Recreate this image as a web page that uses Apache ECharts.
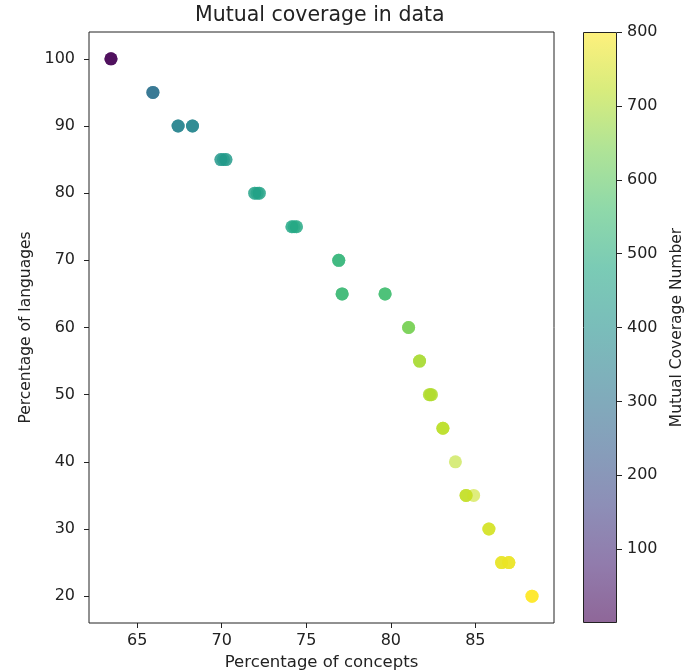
<!DOCTYPE html>
<html>
<head>
<meta charset="utf-8">
<script src="https://cdn.jsdelivr.net/npm/echarts@6/dist/echarts.min.js"></script>
<style>
  html, body { margin: 0; padding: 0; background: #fff; }
  #chart { width: 690px; height: 672px; }
</style>
</head>
<body>
<div id="chart"></div>
<script>
// ---- data ----
const conceptPct = [
  63.45, 63.45, 63.45,
  65.93, 65.93, 65.93,
  67.42, 67.42, 67.42, 68.27, 68.27, 68.27,
  69.95, 69.95, 70.10, 70.25, 70.25,
  71.95, 71.95, 72.10, 72.22, 72.22,
  74.15, 74.15, 74.28, 74.42, 74.42,
  76.92, 76.92, 76.92,
  77.12, 77.12, 77.12, 79.66, 79.66, 79.66,
  81.05, 81.05, 81.05,
  81.70, 81.70, 81.70,
  82.28, 82.28, 82.34, 82.40, 82.40,
  83.08, 83.08, 83.08,
  83.82,
  84.45, 84.45, 84.45, 84.90,
  85.80, 85.80, 85.80,
  86.55, 86.55, 86.55, 86.98, 86.98, 86.98,
  88.35, 88.35, 88.35
];
const languagePct = [
  100, 100, 100,
  95, 95, 95,
  90, 90, 90, 90, 90, 90,
  85, 85, 85, 85, 85,
  80, 80, 80, 80, 80,
  75, 75, 75, 75, 75,
  70, 70, 70,
  65, 65, 65, 65, 65, 65,
  60, 60, 60,
  55, 55, 55,
  50, 50, 50, 50, 50,
  45, 45, 45,
  40,
  35, 35, 35, 35,
  30, 30, 30,
  25, 25, 25, 25, 25, 25,
  20, 20, 20
];
const coverage = [
  1, 1, 1,
  300, 300, 300,
  355, 355, 355, 365, 365, 365,
  420, 420, 425, 430, 430,
  455, 455, 455, 460, 460,
  475, 475, 480, 485, 485,
  525, 525, 525,
  540, 540, 540, 555, 555, 555,
  635, 635, 635,
  695, 695, 695,
  705, 705, 705, 705, 705,
  718, 718, 718,
  720,
  728, 728, 728, 735,
  748, 748, 748,
  772, 772, 772, 778, 778, 778,
  800, 800, 800
];
const xTickLabels = [65, 70, 75, 80, 85];
const yTickLabels = [20, 30, 40, 50, 60, 70, 80, 90, 100];
const cbTickLabels = [100, 200, 300, 400, 500, 600, 700, 800];
const viridis = ['#440154', '#482475', '#414487', '#355f8d', '#2a788e', '#21918c',
                 '#22a884', '#44bf70', '#7ad151', '#bddf26', '#fde725'];

// ---- build chart ----
const FONT = 'DejaVu Sans';
const TXT = '#222';
const points = conceptPct.map((x, i) => [x, languagePct[i], coverage[i]]);

function rgba(hex, a) {
  const n = parseInt(hex.slice(1), 16);
  return 'rgba(' + ((n >> 16) & 255) + ',' + ((n >> 8) & 255) + ',' + (n & 255) + ',' + a + ')';
}
const cbStops = viridis.slice().reverse().map((c, i, arr) => ({
  offset: i / (arr.length - 1), color: rgba(c, 0.6)
}));

const chart = echarts.init(document.getElementById('chart'), null, { renderer: 'canvas' });
chart.setOption({
  animation: false,
  backgroundColor: '#fff',
  textStyle: { fontFamily: FONT },
  title: {
    text: 'Mutual coverage in data',
    left: 195,
    top: 5,
    padding: 0,
    textStyle: { fontFamily: FONT, fontSize: 20.5, fontWeight: 'normal', color: TXT }
  },
  grid: [
    { left: 89, right: 136, top: 32, bottom: 49, show: true, borderColor: '#222', borderWidth: 1,
      outerBoundsMode: 'none', containLabel: false },
    { left: 583, width: 34, top: 32, bottom: 49, outerBoundsMode: 'none', containLabel: false }
  ],
  xAxis: [
    {
      type: 'value', gridIndex: 0, min: 62.15, max: 89.65,
      name: 'Percentage of concepts', nameLocation: 'middle', nameGap: 31,
      nameTextStyle: { fontFamily: FONT, fontSize: 16.5, color: TXT },
      axisLine: { show: false },
      axisTick: { show: true, length: 5, customValues: xTickLabels, lineStyle: { color: '#222' } },
      axisLabel: { customValues: xTickLabels, margin: 10, fontFamily: FONT, fontSize: 16, color: TXT },
      splitLine: { show: false }
    },
    {
      type: 'category', gridIndex: 1, data: [''], show: false
    }
  ],
  yAxis: [
    {
      type: 'value', gridIndex: 0, min: 16, max: 104,
      name: 'Percentage of languages', nameLocation: 'middle', nameGap: 54, nameRotate: 90,
      nameTextStyle: { fontFamily: FONT, fontSize: 15.5, color: TXT },
      axisLine: { show: false },
      axisTick: { show: true, length: 5, customValues: yTickLabels, lineStyle: { color: '#222' } },
      axisLabel: { customValues: yTickLabels, margin: 14, fontFamily: FONT, fontSize: 16, color: TXT },
      splitLine: { show: false }
    },
    {
      type: 'value', gridIndex: 1, min: 0, max: 800, position: 'right',
      name: 'Mutual Coverage Number', nameLocation: 'middle', nameGap: 52, nameRotate: 90,
      nameTextStyle: { fontFamily: FONT, fontSize: 15.5, color: TXT },
      axisLine: { show: false },
      axisTick: { show: true, length: 5, customValues: cbTickLabels, lineStyle: { color: '#222' } },
      axisLabel: { customValues: cbTickLabels, margin: 10, fontFamily: FONT, fontSize: 16, color: TXT },
      splitLine: { show: false }
    }
  ],
  visualMap: {
    show: false, type: 'continuous', dimension: 2, min: 0, max: 800, seriesIndex: 0,
    inRange: { color: viridis }
  },
  series: [
    {
      type: 'scatter', xAxisIndex: 0, yAxisIndex: 0,
      data: points, symbol: 'circle', symbolSize: 13,
      itemStyle: { opacity: 0.6 }
    },
    {
      type: 'bar', xAxisIndex: 1, yAxisIndex: 1, data: [800], barWidth: '100%', clip: false,
      itemStyle: {
        color: { type: 'linear', x: 0, y: 0, x2: 0, y2: 1, colorStops: cbStops },
        borderColor: '#222', borderWidth: 1
      },
      emphasis: { disabled: true }
    }
  ]
});
</script>
</body>
</html>
